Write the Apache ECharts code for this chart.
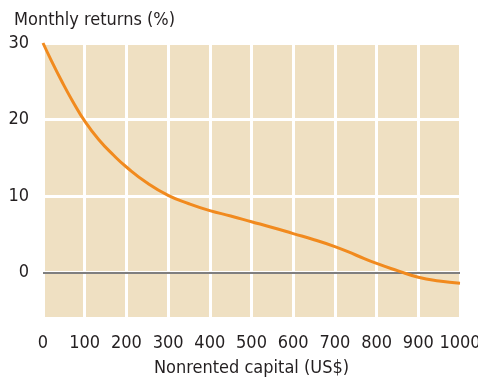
<!DOCTYPE html>
<html>
<head>
<meta charset="utf-8">
<script src="https://cdn.jsdelivr.net/npm/echarts@6/dist/echarts.min.js"></script>
<style>
  html, body { margin: 0; padding: 0; background: #fff; }
  #chart { width: 478px; height: 379px; }
</style>
</head>
<body>
<div id="chart"></div>
<script>
// Nonrented capital (US$) and the monthly return (%) on it
const capital = [0, 20, 45, 70, 100, 135, 170, 200, 250, 300, 350, 400, 450, 500, 550, 600, 650, 700, 750, 800, 850, 900, 950, 1000];
const returns = [30, 27.7, 25.0, 22.5, 19.8, 17.3, 15.3, 13.8, 11.7, 10.1, 9.0, 8.1, 7.4, 6.65, 5.9, 5.1, 4.3, 3.4, 2.3, 1.2, 0.26, -0.6, -1.1, -1.4];
const xTicks = [0, 100, 200, 300, 400, 500, 600, 700, 800, 900, 1000];
const yTicks = [0, 10, 20, 30];

const FONT = '"DejaVu Sans Condensed", "Liberation Sans Narrow", "Roboto", sans-serif';

const chart = echarts.init(document.getElementById('chart'), null, { renderer: 'canvas' });

chart.setOption({
  animation: false,
  title: {
    text: 'Monthly returns (%)',
    left: 9,
    top: 6,
    textStyle: { fontFamily: FONT, fontSize: 18, fontWeight: 'normal', color: '#231f20' }
  },
  grid: {
    left: 43, right: 18, top: 43, bottom: 62,
    containLabel: false,
    outerBoundsMode: 'none',
    show: true,
    backgroundColor: '#efe0c2',
    borderWidth: 0
  },
  xAxis: {
    type: 'value',
    min: 0, max: 1000,
    name: 'Nonrented capital (US$)',
    nameLocation: 'middle',
    nameGap: 42,
    nameTextStyle: { fontFamily: FONT, fontSize: 18, color: '#231f20' },
    axisLine: { show: false },
    axisTick: { show: false, customValues: xTicks },
    axisLabel: {
      margin: 17,
      fontFamily: FONT, fontSize: 18, color: '#231f20',
      customValues: xTicks,
      formatter: v => String(v)
    },
    splitLine: { show: true, lineStyle: { color: '#ffffff', width: 3 } }
  },
  yAxis: {
    type: 'value',
    min: -5.8, max: 30,
    axisLine: { show: false },
    axisTick: { show: false, customValues: yTicks },
    axisLabel: {
      margin: 14,
      fontFamily: FONT, fontSize: 18, color: '#231f20',
      customValues: yTicks
    },
    splitLine: { show: true, lineStyle: { color: '#ffffff', width: 3 } }
  },
  series: [{
    type: 'line',
    data: capital.map((c, i) => [c, returns[i]]),
    smooth: 0.5,
    symbol: 'none',
    lineStyle: { color: '#f18a1e', width: 3 },
    z: 3,
    markLine: {
      silent: true,
      symbol: 'none',
      label: { show: false },
      emphasis: { disabled: true },
      lineStyle: { color: '#555555', width: 1.5, type: 'solid' },
      data: [{ yAxis: 0 }],
      z: 2
    }
  }]
});
</script>
</body>
</html>
